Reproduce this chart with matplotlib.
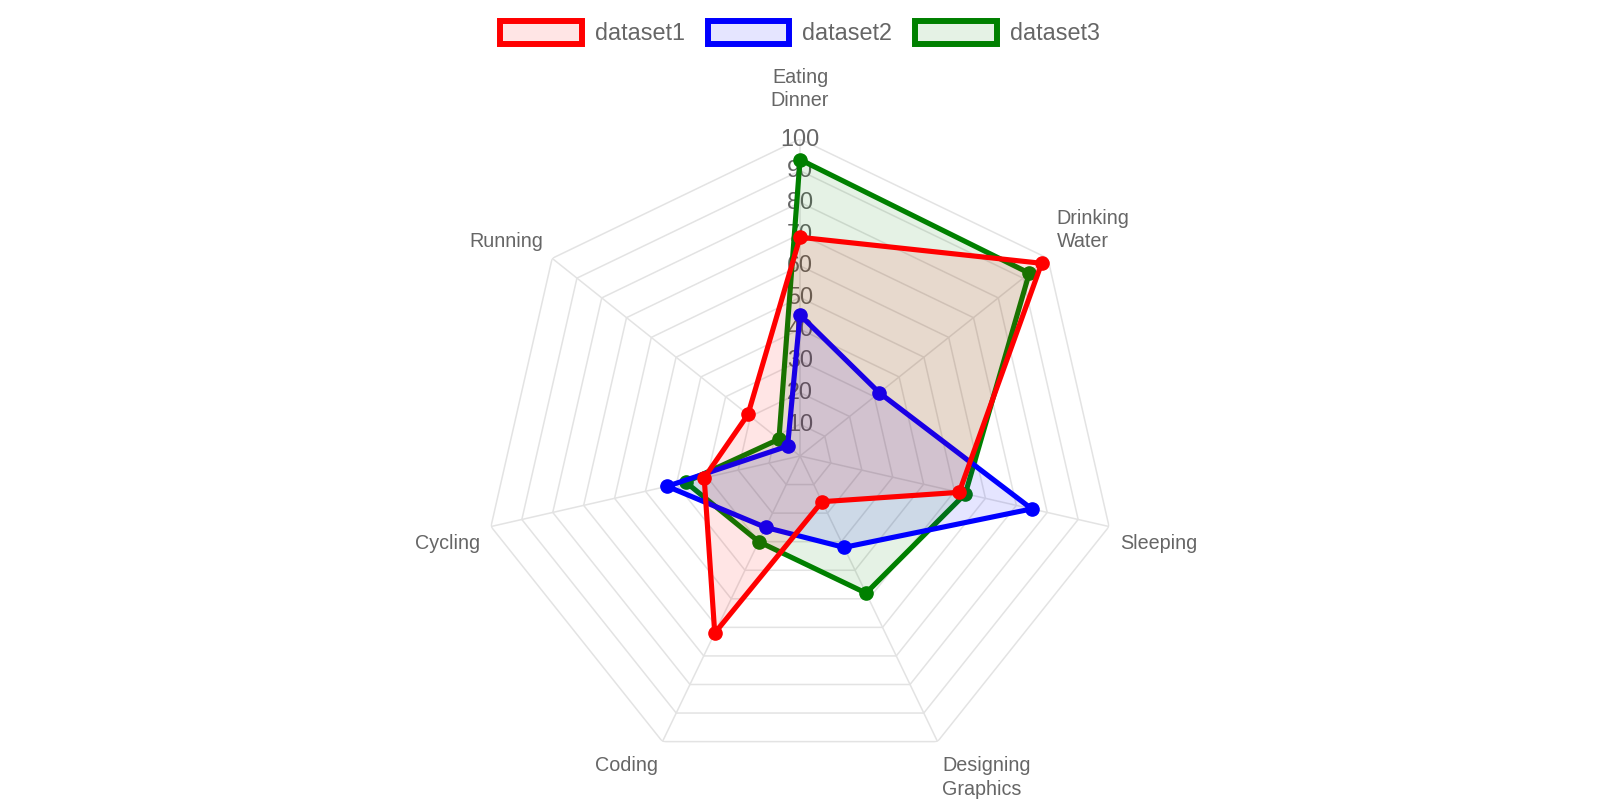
import numpy as np
import matplotlib
matplotlib.use("Agg")
import matplotlib.pyplot as plt
from matplotlib.patches import Patch
from matplotlib.colors import to_rgba
from matplotlib.transforms import offset_copy

plt.rcParams['font.family'] = ['Liberation Sans', 'DejaVu Sans']

# ---- data ----
categories = ['Eating\nDinner', 'Drinking\nWater', 'Sleeping', 'Designing\nGraphics',
              'Coding', 'Cycling', 'Running']
dataset1 = [69, 97.5, 51.5, 16, 62, 31, 21]
dataset2 = [44.5, 32, 75, 32, 25, 43, 5]
dataset3 = [93.5, 92.5, 53.5, 48, 30, 37, 8.5]
series_names = ['dataset1', 'dataset2', 'dataset3']
series_colors = ['#ff0000', '#0000ff', '#008000']
tick_values = [10, 20, 30, 40, 50, 60, 70, 80, 90, 100]
r_max = 100

series = [dataset1, dataset2, dataset3]
n = len(categories)
theta = np.arange(n) * 2 * np.pi / n
theta_closed = np.concatenate([theta, theta[:1]])

fig = plt.figure(figsize=(16, 8), dpi=100)
ax = fig.add_axes([0.301875, 0.03375, 0.39625, 0.7925], projection='polar')
ax.set_theta_zero_location('N')
ax.set_theta_direction(-1)
ax.set_ylim(0, r_max)
ax.set_axis_off()

grid_color = '#e3e3e3'
# polygon rings
for v in tick_values:
    ax.plot(theta_closed, [v] * (n + 1), color=grid_color, lw=1.1, zorder=1)
# spokes
for t in theta:
    ax.plot([t, t], [0, r_max], color=grid_color, lw=1.1, zorder=1)

# tick labels
for v in tick_values:
    ax.text(0, v, str(v), ha='center', va='center', fontsize=16.8,
            color='#666666', zorder=2)

# point labels
label_r = {0: 109}
for i, (t, lab) in enumerate(zip(theta, categories)):
    deg = np.degrees(t) % 360
    if np.isclose(deg, 0) or np.isclose(deg, 180):
        ha = 'center'
    elif deg < 180:
        ha = 'left'
    else:
        ha = 'right'
    if np.isclose(deg, 90) or np.isclose(deg, 270):
        va = 'center'
    elif deg < 90 or deg > 270:
        va = 'bottom'
    else:
        va = 'top'
    r = label_r.get(i, 103.6)
    dy = -4.5 if va == 'top' else 0
    tr = offset_copy(ax.transData, fig=fig, x=0, y=dy, units='dots')
    ax.text(t, r, lab, ha=ha, va=va, fontsize=14.2, color='#666666',
            linespacing=1.3, zorder=2, transform=tr)

# datasets (dataset1 drawn on top)
for k in range(len(series) - 1, -1, -1):
    vals = np.concatenate([series[k], series[k][:1]])
    col = series_colors[k]
    z = 10 + (len(series) - k) * 3
    ax.fill(theta_closed, vals, color=to_rgba(col, 0.1), lw=0, zorder=z)
    ax.plot(theta_closed, vals, color=col, lw=3.7, zorder=z + 1,
            solid_joinstyle='miter')
    ax.plot(theta, series[k], 'o', color=col, markersize=9.5, zorder=z + 2)

handles = [Patch(facecolor=to_rgba(c, 0.1), edgecolor=c, linewidth=4.3, label=nm)
           for nm, c in zip(series_names, series_colors)]
leg = fig.legend(handles=handles, loc='center', bbox_to_anchor=(0.5, 1 - 33 / 800),
                 ncol=3, frameon=False, fontsize=16.8, handlelength=3.48,
                 handleheight=1.15, handletextpad=0.56, columnspacing=1.0,
                 borderpad=0.2)
for txt in leg.get_texts():
    txt.set_color('#666666')

fig.savefig('out.png', dpi=100)
